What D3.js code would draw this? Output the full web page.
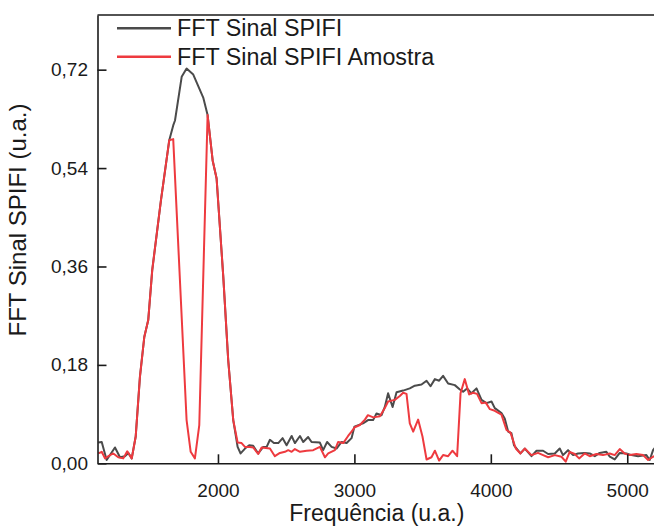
<!DOCTYPE html>
<html>
<head>
<meta charset="utf-8">
<script src="https://cdn.jsdelivr.net/npm/d3@7"></script>
<style>
  body { margin: 0; background: #fff; }
  svg { display: block; font-family: "Liberation Sans", Arial, sans-serif; }
  .axis path, .axis line { stroke: #1a1a1a; stroke-width: 1.6; }
  .axis text { font-size: 19px; fill: #1a1a1a; }
</style>
</head>
<body>
<div id="viz"></div>
<script>
// frequency / amplitude
var freqSinal = [1123, 1148, 1184, 1245, 1282, 1318, 1343, 1368, 1397, 1428, 1460, 1489, 1518, 1582, 1643, 1672, 1685, 1734, 1770, 1819, 1892, 1924, 1961, 1990, 2039, 2075, 2112, 2144, 2166, 2198, 2229, 2258, 2295, 2332, 2357, 2381, 2410, 2442, 2474, 2503, 2540, 2564, 2601, 2625, 2661, 2686, 2747, 2771, 2800, 2833, 2869, 2906, 2943, 2979, 3000, 3063, 3100, 3137, 3162, 3199, 3223, 3247, 3280, 3309, 3357, 3406, 3443, 3492, 3529, 3558, 3590, 3621, 3650, 3687, 3736, 3773, 3797, 3826, 3858, 3895, 3932, 3968, 4005, 4029, 4078, 4102, 4127, 4151, 4170, 4217, 4249, 4298, 4335, 4383, 4420, 4469, 4505, 4529, 4566, 4603, 4639, 4688, 4725, 4762, 4798, 4847, 4872, 4908, 4945, 4994, 5031, 5079, 5140, 5165, 5189, 5216];
var valSinal = [0.038, 0.039, 0.006, 0.029, 0.011, 0.013, 0.019, 0.009, 0.049, 0.158, 0.231, 0.262, 0.353, 0.481, 0.591, 0.618, 0.627, 0.707, 0.722, 0.711, 0.669, 0.637, 0.554, 0.521, 0.341, 0.189, 0.079, 0.030, 0.018, 0.027, 0.033, 0.032, 0.018, 0.030, 0.030, 0.043, 0.037, 0.037, 0.046, 0.033, 0.050, 0.037, 0.050, 0.039, 0.048, 0.039, 0.038, 0.024, 0.039, 0.030, 0.027, 0.039, 0.037, 0.046, 0.067, 0.073, 0.079, 0.079, 0.091, 0.088, 0.103, 0.128, 0.103, 0.130, 0.133, 0.137, 0.142, 0.144, 0.151, 0.141, 0.154, 0.151, 0.160, 0.146, 0.143, 0.135, 0.131, 0.137, 0.128, 0.137, 0.116, 0.110, 0.113, 0.101, 0.092, 0.082, 0.058, 0.055, 0.033, 0.018, 0.027, 0.013, 0.023, 0.023, 0.017, 0.018, 0.027, 0.015, 0.024, 0.015, 0.018, 0.019, 0.018, 0.013, 0.019, 0.021, 0.012, 0.007, 0.019, 0.018, 0.015, 0.013, 0.015, 0.006, 0.024, 0.033];

var freqAmostra = [1123, 1148, 1172, 1209, 1233, 1269, 1306, 1335, 1368, 1397, 1428, 1460, 1489, 1518, 1582, 1643, 1672, 1770, 1800, 1831, 1863, 1924, 1961, 1990, 2039, 2075, 2112, 2144, 2173, 2198, 2234, 2258, 2295, 2320, 2381, 2417, 2454, 2491, 2515, 2540, 2564, 2601, 2650, 2698, 2747, 2784, 2808, 2857, 2881, 2918, 2954, 2979, 3003, 3040, 3077, 3099, 3138, 3187, 3223, 3247, 3296, 3333, 3357, 3382, 3406, 3431, 3467, 3499, 3529, 3565, 3590, 3621, 3650, 3687, 3719, 3753, 3778, 3809, 3841, 3870, 3899, 3932, 3963, 3993, 4029, 4078, 4115, 4144, 4183, 4217, 4249, 4298, 4346, 4383, 4420, 4469, 4518, 4549, 4578, 4615, 4647, 4688, 4725, 4774, 4822, 4872, 4908, 4945, 4981, 5018, 5067, 5116, 5153, 5189, 5216];
var valAmostra = [0.018, 0.021, 0.009, 0.015, 0.018, 0.011, 0.009, 0.022, 0.009, 0.049, 0.158, 0.231, 0.262, 0.353, 0.481, 0.591, 0.593, 0.079, 0.021, 0.009, 0.070, 0.637, 0.554, 0.521, 0.341, 0.189, 0.079, 0.038, 0.037, 0.030, 0.030, 0.029, 0.017, 0.029, 0.027, 0.013, 0.019, 0.021, 0.024, 0.021, 0.026, 0.021, 0.023, 0.024, 0.030, 0.011, 0.018, 0.024, 0.039, 0.037, 0.050, 0.058, 0.066, 0.070, 0.080, 0.088, 0.084, 0.086, 0.101, 0.113, 0.116, 0.123, 0.129, 0.127, 0.073, 0.058, 0.080, 0.049, 0.007, 0.011, 0.023, 0.005, 0.015, 0.013, 0.023, 0.013, 0.128, 0.154, 0.126, 0.129, 0.127, 0.110, 0.111, 0.099, 0.096, 0.089, 0.061, 0.056, 0.027, 0.018, 0.027, 0.015, 0.019, 0.015, 0.011, 0.015, 0.012, 0.003, 0.021, 0.017, 0.009, 0.018, 0.013, 0.017, 0.015, 0.018, 0.015, 0.026, 0.018, 0.015, 0.017, 0.015, 0.006, 0.012, 0.015];

var xTicks = [2000, 3000, 4000, 5000];
var yTicks = [0, 0.18, 0.36, 0.54, 0.72];
var seriesNames = ["FFT Sinal SPIFI", "FFT Sinal SPIFI Amostra"];
var seriesColors = ["#4b4b4b", "#ee3a3f"];

var W = 654, H = 528;
var margin = { top: 15, left: 97.5, bottom: H - 463.3 };
var plotRight = 660;

var ptBR = d3.formatLocale({ decimal: ",", thousands: ".", grouping: [3], currency: ["", ""] });
var fmtY = ptBR.format(".2f");

var svg = d3.select("#viz").append("svg").attr("width", W).attr("height", H);

var x = d3.scaleLinear().domain([1117, 5240]).range([margin.left, plotRight]);
var y = d3.scaleLinear().domain([0, 0.82]).range([H - margin.bottom, margin.top]);

svg.append("defs").append("clipPath").attr("id", "plotclip")
  .append("rect")
  .attr("x", margin.left).attr("y", margin.top)
  .attr("width", plotRight - margin.left)
  .attr("height", y(0) - margin.top);

var line = d3.line()
  .x(function (d) { return x(d[0]); })
  .y(function (d) { return y(d[1]); });

var series = [
  d3.zip(freqSinal, valSinal),
  d3.zip(freqAmostra, valAmostra)
];

svg.append("g").attr("clip-path", "url(#plotclip)")
  .selectAll("path")
  .data(series)
  .enter()
  .append("path")
  .attr("d", line)
  .attr("fill", "none")
  .attr("stroke", function (d, i) { return seriesColors[i]; })
  .attr("stroke-width", 2)
  .attr("stroke-linejoin", "round");

// axes, ticks point inwards
var xAxis = d3.axisBottom(x).tickValues(xTicks).tickFormat(d3.format("d"))
  .tickSizeInner(-9).tickSizeOuter(0).tickPadding(20);
var yAxis = d3.axisLeft(y).tickValues(yTicks).tickFormat(fmtY)
  .tickSizeInner(-9).tickSizeOuter(0).tickPadding(9.5);

svg.append("g").attr("class", "x axis")
  .attr("transform", "translate(0," + y(0) + ")")
  .call(xAxis);
svg.append("g").attr("class", "y axis")
  .attr("transform", "translate(" + margin.left + ",0)")
  .call(yAxis);
svg.selectAll(".axis text").attr("font-family", null);

// top frame
svg.append("line")
  .attr("x1", margin.left).attr("x2", plotRight)
  .attr("y1", margin.top).attr("y2", margin.top)
  .attr("stroke", "#1a1a1a").attr("stroke-width", 1.6);

// titles
svg.append("text")
  .attr("x", (margin.left + 654) / 2 + 1)
  .attr("y", 521)
  .style("text-anchor", "middle")
  .style("font-size", "23px")
  .attr("fill", "#1a1a1a")
  .text("Frequência (u.a.)");

svg.append("text")
  .attr("transform", "translate(26,220) rotate(-90)")
  .style("text-anchor", "middle")
  .style("font-size", "24px")
  .attr("fill", "#1a1a1a")
  .text("FFT Sinal SPIFI (u.a.)");

// legend
var legend = svg.append("g").selectAll("g")
  .data(seriesNames)
  .enter()
  .append("g")
  .attr("transform", function (d, i) { return "translate(0," + (28.3 + i * 28.5) + ")"; });
legend.append("line")
  .attr("x1", 117).attr("x2", 171)
  .attr("stroke", function (d, i) { return seriesColors[i]; })
  .attr("stroke-width", 2.5);
legend.append("text")
  .attr("x", 177)
  .attr("y", 8)
  .style("font-size", "23.3px")
  .attr("fill", "#1a1a1a")
  .text(function (d) { return d; });
</script>
</body>
</html>
